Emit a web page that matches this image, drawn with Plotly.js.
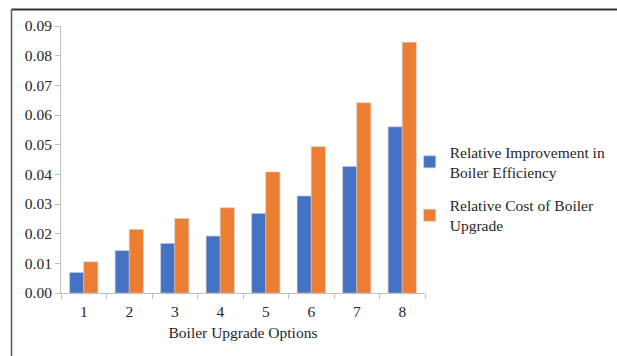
<!DOCTYPE html>
<html>
<head>
<meta charset="utf-8">
<script src="https://cdn.plot.ly/plotly-3.0.1.min.js"></script>
<style>
  html, body { margin: 0; padding: 0; background: #fff; }
  #chart { width: 617px; height: 356px; }
</style>
</head>
<body>
<div id="chart"></div>
<script>
// Boiler upgrade options and their relative improvement vs. relative cost
const options = ['1', '2', '3', '4', '5', '6', '7', '8'];
const improvement = [0.0069, 0.0143, 0.0167, 0.0192, 0.0268, 0.0327, 0.0426, 0.0560];
const cost = [0.0105, 0.0214, 0.0251, 0.0287, 0.0408, 0.0493, 0.0641, 0.0845];
const yTicks = [0, 0.01, 0.02, 0.03, 0.04, 0.05, 0.06, 0.07, 0.08, 0.09];

const serif = 'Liberation Serif, Times New Roman, serif';
const textColor = '#262626';

const traces = [
  {
    type: 'bar',
    name: 'Relative Improvement in<br>Boiler Efficiency',
    x: options,
    y: improvement,
    legendgroup: 'a',
    marker: { color: '#4472C4', line: { color: '#c9c9c9', width: 0.6 } }
  },
  {
    type: 'bar',
    name: 'Relative Cost of Boiler<br>Upgrade',
    x: options,
    y: cost,
    legendgroup: 'b',
    marker: { color: '#ED7D31', line: { color: '#c9c9c9', width: 0.6 } }
  }
];

const layout = {
  width: 617,
  height: 356,
  margin: { l: 61, r: 192, t: 26, b: 63, autoexpand: false },
  paper_bgcolor: '#ffffff',
  plot_bgcolor: '#ffffff',
  font: { family: serif, size: 15.5, color: textColor },
  barmode: 'group',
  bargap: 0.38,
  bargroupgap: 0,
  showlegend: true,
  legend: {
    xref: 'container',
    yref: 'container',
    x: 0.664,
    xanchor: 'left',
    y: 0.47,
    yanchor: 'middle',
    traceorder: 'grouped',
    tracegroupgap: 10,
    itemwidth: 30,
    borderwidth: 0,
    font: { family: serif, size: 15.5, color: textColor },
    bgcolor: 'rgba(0,0,0,0)'
  },
  xaxis: {
    type: 'category',
    showline: true,
    linecolor: '#bfbfbf',
    linewidth: 1,
    ticks: 'outside',
    tickson: 'boundaries',
    ticklen: 5,
    tickcolor: '#bfbfbf',
    ticklabelstandoff: 4,
    showgrid: false,
    zeroline: false,
    tickfont: { family: serif, size: 15.5, color: textColor },
    title: {
      text: 'Boiler Upgrade Options',
      font: { family: serif, size: 15.5, color: textColor },
      standoff: 8
    }
  },
  yaxis: {
    range: [0, 0.09],
    tickvals: yTicks,
    tickformat: '.2f',
    showline: true,
    linecolor: '#bfbfbf',
    linewidth: 1,
    ticks: 'outside',
    ticklen: 5,
    tickcolor: '#bfbfbf',
    showgrid: false,
    zeroline: false,
    tickfont: { family: serif, size: 15.5, color: textColor }
  },
  shapes: [
    // frame: top edge
    { type: 'line', xref: 'paper', yref: 'paper', x0: -0.136, x1: 1.53, y0: 1.062, y1: 1.062,
      line: { color: '#333333', width: 2 } },
    // frame: left edge
    { type: 'line', xref: 'paper', yref: 'paper', x0: -0.136, x1: -0.136, y0: 1.062, y1: -0.24,
      line: { color: '#555555', width: 1.5 } }
  ]
};

Plotly.newPlot('chart', traces, layout, { displayModeBar: false, staticPlot: true });
</script>
</body>
</html>
